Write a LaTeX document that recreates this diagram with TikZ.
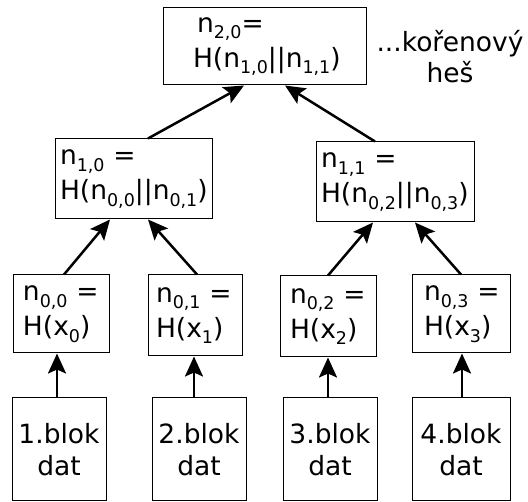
\documentclass[tikz,border=0pt]{standalone}
\usepackage{fontspec}
\setmainfont{DejaVu Sans}
\usetikzlibrary{arrows.meta}
\newcommand\mysub[1]{\raisebox{-6.5pt}{\fontsize{17.5}{17.5}\selectfont #1}}
\tikzset{
  box/.style={draw, line width=1pt, inner xsep=5pt, inner ysep=0pt, align=left,
    font=\fontsize{26.5}{35}\selectfont},
  dbox/.style={draw, line width=1pt, inner sep=0pt, align=center,
    minimum width=94pt, minimum height=103pt, font=\fontsize{26.5}{32}\selectfont},
  arr/.style={line width=2.5pt, -{Stealth[length=20pt,width=18pt,inset=4pt]}},
}
\begin{document}
\begin{tikzpicture}[x=1pt,y=-1pt]
\useasboundingbox (0,0) rectangle (528,502);
% root
\node[box, minimum width=203pt, minimum height=77pt, text width=193pt] (root) at (264.5,46.5)
  {\hspace*{29pt}n\mysub{2,0}=\\\hspace*{25pt}H(n\mysub{1,0}||n\mysub{1,1})};
\node[align=center, font=\fontsize{26.5}{31}\selectfont, anchor=north, inner sep=0pt] (label) at (450,30)
  {...kořenový\\heš};
% level 1
\node[box, minimum width=157pt, minimum height=80pt, text width=147pt] (n10) at (133.5,179)
  {n\mysub{1,0} =\\H(n\mysub{0,0}||n\mysub{0,1})};
\node[box, minimum width=158pt, minimum height=80pt, text width=148pt] (n11) at (395,182)
  {n\mysub{1,1} =\\H(n\mysub{0,2}||n\mysub{0,3})};
% level 0
\node[box, minimum width=96pt, minimum height=78pt, text width=86pt] (n00) at (61,314)
  {\hspace*{5pt}n\mysub{0,0} =\\\hspace*{5pt}H(x\mysub{0})};
\node[box, minimum width=94pt, minimum height=81pt, text width=84pt] (n01) at (195,315.5)
  {\hspace*{3pt}n\mysub{0,1} =\\\hspace*{3pt}H(x\mysub{1})};
\node[box, minimum width=96pt, minimum height=81pt, text width=86pt] (n02) at (328,316.5)
  {\hspace*{5pt}n\mysub{0,2} =\\\hspace*{5pt}H(x\mysub{2})};
\node[box, minimum width=98pt, minimum height=78pt, text width=88pt] (n03) at (461,314)
  {\hspace*{7pt}n\mysub{0,3} =\\\hspace*{7pt}H(x\mysub{3})};
% data blocks
\node[dbox] (d1) at (59,449.5) {1.blok\\dat};
\node[dbox] (d2) at (199,449.5) {2.blok\\dat};
\node[dbox] (d3) at (330,449.5) {3.blok\\dat};
\node[dbox, minimum width=98pt] (d4) at (461,449.5) {4.blok\\dat};
% arrows
\draw[arr] ([xshift=14.5pt]n10.north) -- ([xshift=-20.5pt]root.south);
\draw[arr] ([xshift=-20pt]n11.north) -- ([xshift=20.5pt]root.south);
\draw[arr] ([xshift=3pt]n00.north) -- ([xshift=-23.5pt]n10.south);
\draw[arr] ([xshift=2pt]n01.north) -- ([xshift=14.5pt]n10.south);
\draw[arr] (n02.north) -- ([xshift=-22pt]n11.south);
\draw[arr] (n03.north) -- ([xshift=20pt]n11.south);
\draw[arr] ([xshift=-2pt]d1.north) -- ([xshift=-4pt]n00.south);
\draw[arr] ([xshift=-5pt]d2.north) -- ([xshift=-1pt]n01.south);
\draw[arr] ([xshift=-2pt]d3.north) -- (n02.south);
\draw[arr] ([xshift=1pt]d4.north) -- ([xshift=1pt]n03.south);
\end{tikzpicture}
\end{document}
